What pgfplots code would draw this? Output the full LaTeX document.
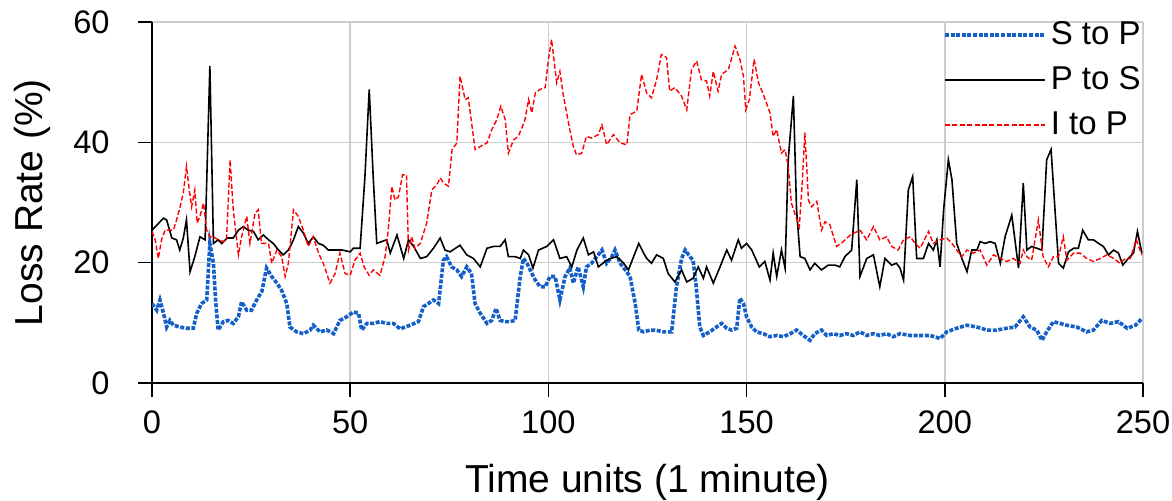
\documentclass[border=0pt]{standalone}
\usepackage{pgfplots}
\pgfplotsset{compat=1.18}
\usepackage{fontspec}
\setmainfont{Liberation Sans}
\definecolor{sblue}{RGB}{21,96,200}
\definecolor{ired}{RGB}{255,0,0}
\definecolor{gridgray}{RGB}{205,205,205}
\begin{document}
\begin{tikzpicture}
\begin{axis}[name=ax,
  scale only axis, width=495.5pt, height=180.5pt,
  xmin=0, xmax=250, ymin=0, ymax=60,
  xtick={0,50,100,150,200,250}, ytick={0,20,40,60},
  axis x line*=bottom, axis y line*=left,
  axis line style={black, line width=0.8pt, -},
  grid=major, major grid style={gridgray, line width=0.75pt},
  tick align=outside, major tick length=7pt,
  tick style={black, line width=0.8pt},
  /pgf/number format/assume math mode=true,
  tick label style={font=\fontsize{16.3}{19}\selectfont, inner sep=0pt},
  yticklabel style={anchor=east, xshift=-14pt},
  xticklabel style={anchor=north, yshift=-6.5pt},
  label style={font=\fontsize{19.5}{23}\selectfont},
  xlabel={Time units (1 minute)}, ylabel={Loss Rate (\%)},
  xlabel style={at={(rel axis cs:0.5,-0.302)}, anchor=base, inner sep=0pt},
  ylabel style={at={(rel axis cs:-0.110,0.5)}, anchor=base, inner sep=0pt},
  legend style={at={(rel axis cs:0.798,1.0125)}, anchor=north west, draw=none, fill=none,
    inner xsep=0pt, inner ysep=0pt,
    font=\fontsize{16.5}{19}\selectfont, row sep=5.5pt},
  legend cell align=left,
  legend image code/.code={\draw[#1] (0pt,0pt) -- (46.5pt,0pt); \path (0pt,0pt) -- (50pt,0pt);},
]
\addplot[draw=sblue, line width=1.8pt, dash pattern=on 2pt off 0.8pt] coordinates {
(0,13.2)(1.2,12.1)(2,13.8)(2.9,11.6)(3.7,9.3)(4.5,10.4)(5.4,9.6)(7.1,9.3)(8.7,9.1)(10.4,9.1)(11.3,11.6)(12.5,13.2)(13.8,13.8)(14.6,23.2)(15.5,19.9)(16.1,13.2)(16.7,8.8)(18,10.2)(19.2,10.4)(20.5,9.9)(21.8,11)(22.6,13.5)(23.9,12.1)(25.1,12.1)(26.4,13.8)(27.7,15.2)(28.9,19.1)(30.2,17.7)(31.5,16.6)(32.7,15.4)(34,13.2)(34.8,9.3)(36.5,8.5)(38.2,8.2)(39.9,8.8)(40.7,9.6)(42.4,8.5)(44.1,8.8)(45.8,8.2)(47.4,10.4)(49.1,11)(50.8,11.8)(52.1,11.6)(52.9,8.8)(54.2,9.9)(55.8,9.9)(57.5,10.2)(59.2,9.9)(60.9,9.9)(62.6,9)(65.1,9.6)(67.2,10.2)(68.5,12.7)(69.7,13.2)(71,13.8)(72.3,13.2)(73.5,20.4)(74.3,21)(75.6,19.3)(76.9,18.8)(78.1,17.7)(79.4,19.3)(80.6,18.2)(81.5,13.2)(82.8,11.6)(84.5,9.9)(85.7,10.4)(86.8,12.4)(87.8,10.4)(89.1,10.2)(90.3,10.2)(91.6,10.4)(92.9,17.7)(93.7,20.7)(94.6,19.9)(95.4,18.8)(96.2,17.7)(96.7,17.1)(97.9,16)(99.2,16)(100.4,17.7)(101.7,17.7)(102.9,13.8)(104.2,17.7)(105.4,19.1)(106.3,16.6)(107.5,19.3)(108.8,16)(109.6,19.3)(110.9,19.9)(112.2,21)(113.5,22.1)(114.7,19.9)(116,21)(116.8,22.1)(118.1,19.9)(119.4,18.8)(120.6,17.7)(121.9,13.2)(122.8,8.8)(124,8.5)(125.7,8.8)(126.9,8.8)(129,8.5)(131.1,8.5)(132.3,16)(133.6,20.7)(134.5,22.1)(135.7,21)(136.5,20.4)(137.2,16.6)(138.2,9.3)(139.1,7.9)(140.7,8.5)(142.4,9.3)(143.7,9.9)(145,9.1)(146.2,8.8)(147.5,9.1)(148.3,14.1)(149.2,13.2)(150,11)(151.3,9.3)(152.5,8.5)(154.2,8.2)(155.9,7.7)(157.6,7.9)(159.3,7.7)(161,8.2)(162.6,8.8)(164.3,7.9)(166,7.1)(167.2,8.2)(168.9,8.8)(170.2,7.9)(171.9,8.2)(173.5,7.9)(175.2,8.2)(176.9,7.9)(178.6,8.5)(180.3,7.9)(182,8.2)(183.6,7.9)(185.3,8.2)(187,7.7)(188.7,8.2)(191.3,7.9)(193.8,7.9)(196.3,7.9)(198.8,7.4)(200.5,8.5)(203,9.1)(205.6,9.6)(208.1,9.3)(210.6,8.8)(213.1,8.8)(215.6,9.1)(217.7,9.3)(219.8,11)(221.5,9.3)(223.2,8.8)(224.5,7.1)(225.7,8.5)(227.4,10.2)(229.1,9.9)(230.8,9.6)(233.3,9.3)(235.8,8.5)(237.5,8.8)(239.6,10.4)(241.7,9.9)(243.8,10.2)(246,9.1)(248.1,9.6)(249.7,10.7)
};
\addlegendentry{S to P}
\addplot[draw=black, line width=0.8pt] coordinates {
(0,25.4)(2.9,27.4)(3.7,27.1)(5,24.1)(6.2,23.8)(7,22.1)(7.9,24.1)(8.7,27.1)(9.6,18.5)(10.8,21)(12.1,24.3)(13.4,23.8)(14.6,52.7)(15.5,23.2)(16.7,23.8)(17.6,23.2)(19,24.1)(20.5,24.1)(21.8,25.4)(23,26)(24.3,25.4)(25.6,25.2)(26.8,23.8)(28.1,24.6)(29.4,23.8)(30.6,23.2)(31.9,22.1)(33.1,21.3)(34.4,22.1)(35.7,23.8)(36.9,26)(38.2,24.9)(39.4,23.2)(40.7,24.3)(42,23.2)(43.2,22.9)(44.5,22.1)(46,22.1)(48,22.1)(50,21.8)(50.8,22.4)(52.5,22.4)(53.7,34.1)(54.8,48.8)(55.8,34.3)(56.7,23.2)(57.9,23.5)(59.2,23.8)(60.1,21.6)(61.8,24.6)(63.5,20.7)(64.7,23.8)(66,22.7)(67.7,20.7)(69.3,21)(71,22.4)(72.7,24.1)(73.9,22.1)(75.2,21.8)(77.7,22.9)(79.4,21.3)(81.1,20.7)(82.8,19.3)(84.5,22.4)(86.2,22.7)(87.8,22.7)(89.1,23.8)(89.9,21)(91.6,21)(92.9,20.7)(93.7,22.1)(95,21.3)(96.1,19.1)(97.5,22.1)(99.6,22.7)(101.3,23.8)(102.9,20.7)(104.6,21)(105.9,19.3)(107.2,22.1)(108.8,24.1)(110.1,21.3)(111.4,21.8)(112.6,19.3)(114.3,20.2)(115.6,20.7)(117.3,21)(119,19.9)(120.2,18.8)(122.8,23.2)(124,21.6)(124.8,20.7)(126,19.9)(127.3,21.3)(129,20.7)(130.2,18.2)(131.9,16.8)(133.6,18.8)(134.9,16.8)(136.5,17.4)(137.8,19.3)(139.1,17.4)(139.9,19.3)(141.6,16.6)(143.3,19.3)(145,22.1)(146.2,20.4)(147.9,23.8)(148.7,22.4)(150,23.2)(151.3,22.1)(153.2,19.3)(154.6,20.2)(155.9,17.1)(156.7,21.6)(157.6,17.7)(158.8,22.1)(159.7,19.1)(160.5,37.1)(161.8,47.7)(162.6,28.8)(163.5,21)(164.7,20.7)(166,18.8)(167.2,19.9)(168.9,18.8)(170.6,19.6)(172.3,19.6)(173.5,19.3)(174.8,21)(176.5,22.1)(177.8,33.8)(178.6,17.7)(180.3,20.7)(182,21.3)(183.6,16)(184.9,20.7)(186.6,19.6)(187.8,19.9)(188.7,19.1)(189.6,17.1)(190.8,32.1)(191.9,34.3)(192.9,20.7)(194.6,20.7)(195.9,23.2)(197.1,22.1)(198,23.8)(198.8,19.3)(199.7,28.8)(200.9,37.1)(201.8,33.8)(203,23.2)(204.3,20.7)(205.6,18.5)(206.8,22.1)(208.1,22.1)(208.9,23.5)(210.2,23.2)(211.4,23.5)(212.7,23.2)(214,19.9)(215.2,24.3)(216.9,27.9)(218.6,19.1)(219.8,33.2)(220.7,22.1)(221.9,22.7)(223.2,22.4)(224.5,22.1)(225.7,37.1)(226.8,38.8)(227.8,28.8)(228.7,19.9)(229.9,19.1)(231.2,21.8)(232.5,22.4)(233.7,22.4)(234.8,25.4)(236.2,23.8)(237.5,23.8)(238.8,23.2)(240,22.7)(241.3,21.3)(242.6,22.1)(243.8,21.6)(244.9,19.6)(246.3,20.7)(247.6,21.6)(248.6,25.2)(249.7,21.6)
};
\addlegendentry{P to S}
\addplot[draw=ired, line width=0.7pt, dash pattern=on 2.5pt off 1.2pt] coordinates {
(0,25.2)(0.8,23.8)(1.6,20.7)(2.4,23.8)(3.3,25.4)(4.5,25.4)(5.4,25.4)(6.2,27.1)(7.1,29.3)(7.9,31.6)(8.7,36)(9.4,32.1)(10,29.3)(10.8,32.1)(11.4,26.6)(12.1,27.7)(13,29.9)(13.8,25.4)(14.6,24.3)(15.5,24.3)(16.7,23.8)(18,23.5)(18.8,23.8)(19.7,37.1)(20.5,28.8)(21.8,21.3)(22.6,24.3)(23.9,27.7)(24.7,23.2)(26,28.2)(26.8,28.8)(27.6,23.2)(29.4,23.2)(30.2,19.9)(31.5,22.1)(32.7,21)(33.6,17.7)(34.4,19.9)(35.7,28.8)(36.9,27.7)(38.2,25.4)(39.4,22.7)(40.7,24.3)(42,21.6)(43.2,19.9)(44.9,16.6)(46.2,18.2)(47.4,21.6)(48.7,18.2)(50,17.9)(51.2,20.4)(52.5,21.6)(53.5,19.3)(54.8,17.9)(55.8,18.8)(57.5,17.9)(58.8,21)(59.6,25.4)(60.5,32.7)(61.3,30.4)(62.2,31)(63.2,34.6)(64.2,34.6)(64.7,22.1)(65.5,24.3)(66.3,22.4)(67.7,23.2)(69.3,26.6)(70.6,32.1)(71.9,33)(72.7,34.1)(73.6,33.2)(74.8,32.7)(75.7,38.8)(76.9,39.9)(77.7,51)(79,47.1)(79.8,47.4)(81.5,38.8)(82.8,39.3)(84.5,39.9)(85.7,42.1)(87,43.8)(88,46)(89.1,43.8)(89.9,38.2)(91.2,40.4)(92.4,41)(93.3,42.4)(94.1,43.8)(95,47.1)(95.8,44.9)(96.7,48.2)(97.9,48.8)(99.2,49.1)(100,53.8)(100.8,57.1)(101.7,52.1)(102.1,49.9)(102.9,51.8)(103.8,47.7)(104.6,44.9)(105.4,42.1)(106.3,39.3)(107.1,37.9)(108.4,38.2)(109.6,41)(110.9,40.7)(112.6,41.3)(113.5,42.9)(114.7,39.6)(116.4,41.3)(118.1,39.9)(119.8,39.6)(120.6,44.6)(122.3,45.2)(123.5,51.3)(124.8,48.2)(126,47.4)(127.3,50.4)(128.5,54.6)(129.8,54.1)(130.6,48.5)(131.9,49.1)(133.6,47.7)(134.9,45.4)(136.1,52.1)(137.4,53.5)(138.6,50.4)(139.9,50.2)(140.7,47.7)(141.6,51.8)(142.8,48.5)(143.7,51.3)(145.4,52.1)(147.1,56)(148.3,53.8)(149.2,51)(149.8,45.4)(150.7,47.1)(151.9,53.8)(153,49.9)(154.2,48)(155.9,44.9)(156.7,41)(157.6,42.1)(158.8,38.2)(159.7,38.8)(160.5,36)(161.3,29.9)(162.4,27.7)(163.3,26)(164,32.9)(164.7,41.6)(165.6,30.4)(166.4,29.3)(167.7,30.2)(168.9,25.4)(169.8,26.8)(171,26.3)(172.7,22.7)(174.4,23.5)(176.1,24.6)(178.6,25.4)(180.3,23.8)(182,26)(183.6,23.8)(185.3,24.3)(186.6,22.7)(188.2,22.1)(189.6,23.8)(191.3,24.3)(192.5,23.2)(193.8,22.4)(195.9,25.2)(197.1,23.2)(198.8,23.8)(200.5,24.1)(201.8,23.2)(203,22.1)(204.3,21)(205.6,22.1)(207.2,21.6)(208.9,22.1)(210.6,19.6)(212.3,21.3)(214,20.7)(215.6,20.2)(217.3,20.7)(219,19.9)(219.8,22.1)(220.7,21)(221.9,20.4)(223.6,27.1)(224.8,21)(226.1,19.3)(227.4,21)(228.7,21)(229.9,24.3)(230.8,20.4)(232.5,21.6)(234.1,21.6)(235.8,20.7)(237.5,20.2)(239.2,20.7)(240.9,21.3)(242.6,20.7)(244.2,19.9)(245.5,20.7)(246.8,20.7)(248.3,23.8)(249.7,21.3)
};
\addlegendentry{I to P}
\end{axis}
\pgfresetboundingbox
\path (ax.south west) ++(-76pt,-58.5pt) rectangle ++(586pt,250pt);
\end{tikzpicture}
\end{document}
